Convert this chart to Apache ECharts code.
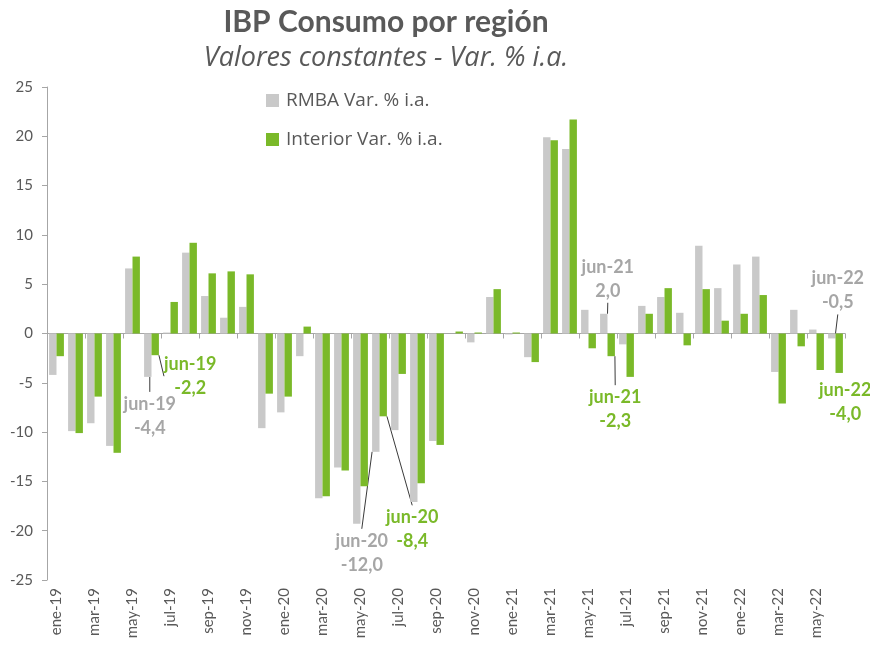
<!DOCTYPE html>
<html>
<head>
<meta charset="utf-8">
<title>IBP Consumo por región</title>
<script src="https://cdn.jsdelivr.net/npm/echarts@6/dist/echarts.min.js"></script>
<style>
  html, body { margin: 0; padding: 0; background: #fff; }
  #chart { width: 870px; height: 652px; }
</style>
</head>
<body>
<div id="chart"></div>
<script>
// meses ene-19 .. jun-22
const months = [
  'ene-19', 'feb-19', 'mar-19', 'abr-19', 'may-19', 'jun-19', 'jul-19', 'ago-19', 'sep-19', 'oct-19', 'nov-19', 'dic-19',
  'ene-20', 'feb-20', 'mar-20', 'abr-20', 'may-20', 'jun-20', 'jul-20', 'ago-20', 'sep-20', 'oct-20', 'nov-20', 'dic-20',
  'ene-21', 'feb-21', 'mar-21', 'abr-21', 'may-21', 'jun-21', 'jul-21', 'ago-21', 'sep-21', 'oct-21', 'nov-21', 'dic-21',
  'ene-22', 'feb-22', 'mar-22', 'abr-22', 'may-22', 'jun-22'
]
const rmba = [
  -4.2, -9.9, -9.1, -11.4, 6.6, -4.4, 0.1, 8.2, 3.8, 1.6, 2.7, -9.6,
  -8.0, -2.3, -16.7, -13.6, -19.3, -12.0, -9.8, -17.1, -10.9, 0.0, -0.9, 3.7,
  -0.1, -2.4, 19.9, 18.7, 2.4, 2.0, -1.1, 2.8, 3.7, 2.1, 8.9, 4.6,
  7.0, 7.8, -3.9, 2.4, 0.4, -0.5
]
const interior = [
  -2.3, -10.1, -6.4, -12.1, 7.8, -2.2, 3.2, 9.2, 6.1, 6.3, 6.0, -6.1,
  -6.4, 0.7, -16.5, -13.9, -15.5, -8.4, -4.1, -15.2, -11.3, 0.2, 0.1, 4.5,
  0.1, -2.9, 19.6, 21.7, -1.5, -2.3, -4.4, 2.0, 4.6, -1.2, 4.5, 1.3,
  2.0, 3.9, -7.1, -1.3, -3.7, -4.0
]
// meses anotados (jun de cada año)
const annotated = [5, 17, 29, 41]

// desplazamiento de cada etiqueta respecto del extremo de la barra [dx, dy]
const labelOffsets = [
  { 5: [2, 39], 17: [-14, 101], 29: [4, -35], 41: [6, -48] },
  { 5: [35, 21], 17: [29, 113], 29: [4, 53], 41: [6, 29] }
]
const seriesValues = [rmba, interior]

const GRAY = '#c9c9c9'
const GREEN = '#7ab929'
const TEXT = '#595959'

const fmt = (v) => v.toFixed(1).replace('.', ',')

const buildData = (values, color, hideLine) => values.map((v, i) => {
  if (!annotated.includes(i)) return v
  return {
    value: v,
    label: {
      show: true,
      formatter: (p) => p.name + '\n' + fmt(p.value),
      color: color,
      fontFamily: 'Lato',
      fontWeight: 'bold',
      fontSize: 18,
      lineHeight: 24
    },
    labelLine: {
      show: !(hideLine && hideLine.includes(i)),
      lineStyle: { color: '#3a3a3a', width: 1 }
    }
  }
})

const chart = echarts.init(document.getElementById('chart'))

const option = {
  backgroundColor: '#fff',
  animation: false,
  title: {
    text: 'IBP Consumo por región',
    subtext: 'Valores constantes - Var. % i.a.',
    left: 381,
    top: 2,
    textAlign: 'center',
    itemGap: 8,
    textStyle: { fontFamily: 'Lato', fontWeight: 'bold', fontSize: 30, color: TEXT },
    subtextStyle: { fontFamily: 'Open Sans', fontStyle: 'italic', fontSize: 27, color: TEXT }
  },
  legend: {
    orient: 'vertical',
    left: 261,
    top: 86,
    itemWidth: 13,
    itemHeight: 13,
    itemGap: 20,
    icon: 'rect',
    textStyle: { fontFamily: 'Open Sans', fontSize: 19, color: TEXT, padding: [0, 0, 0, 2] },
    data: ['RMBA Var. % i.a.', 'Interior Var. % i.a.']
  },
  grid: { left: 47, right: 25, top: 87, bottom: 72 },
  xAxis: [
    {
      type: 'category',
      data: months,
      position: 'bottom',
      axisLine: { show: false, onZero: false },
      axisTick: { show: false },
      axisLabel: {
        interval: 1,
        rotate: 90,
        margin: 8,
        color: TEXT,
        fontFamily: 'Lato',
        fontSize: 15
      }
    },
    {
      type: 'category',
      data: months,
      position: 'top',
      axisLine: { show: true, onZero: true, lineStyle: { color: '#a6a6a6', width: 1 } },
      axisTick: { show: true, inside: true, interval: 1, length: 5, lineStyle: { color: '#a6a6a6' } },
      axisLabel: { show: false }
    }
  ],
  yAxis: {
    type: 'value',
    min: -25,
    max: 25,
    interval: 5,
    axisLine: { show: true, lineStyle: { color: '#a6a6a6' } },
    axisTick: { show: true, length: 5, lineStyle: { color: '#a6a6a6' } },
    splitLine: { show: false },
    axisLabel: { color: TEXT, fontFamily: 'Lato', fontSize: 15, margin: 14 }
  },
  series: [
    {
      name: 'RMBA Var. % i.a.',
      type: 'bar',
      data: buildData(rmba, '#a6a6a6'),
      itemStyle: { color: GRAY },
      barGap: '0%',
      barCategoryGap: '22%'
    },
    {
      name: 'Interior Var. % i.a.',
      type: 'bar',
      data: buildData(interior, GREEN, [41]),
      itemStyle: { color: GREEN },
      barGap: '0%',
      barCategoryGap: '22%'
    }
  ],
  labelLayout: (params) => {
    const offs = labelOffsets[params.seriesIndex]
    if (!offs || !offs[params.dataIndex]) return
    const v = seriesValues[params.seriesIndex][params.dataIndex]
    const r = params.rect
    const top = Math.min(r.y, r.y + r.height)
    const bottom = Math.max(r.y, r.y + r.height)
    const end = v < 0 ? bottom : top
    const [dx, dy] = offs[params.dataIndex]
    return {
      x: r.x + r.width / 2 + dx,
      y: end + dy,
      align: 'center',
      verticalAlign: 'middle'
    }
  }
}

chart.setOption(option)
</script>
</body>
</html>
